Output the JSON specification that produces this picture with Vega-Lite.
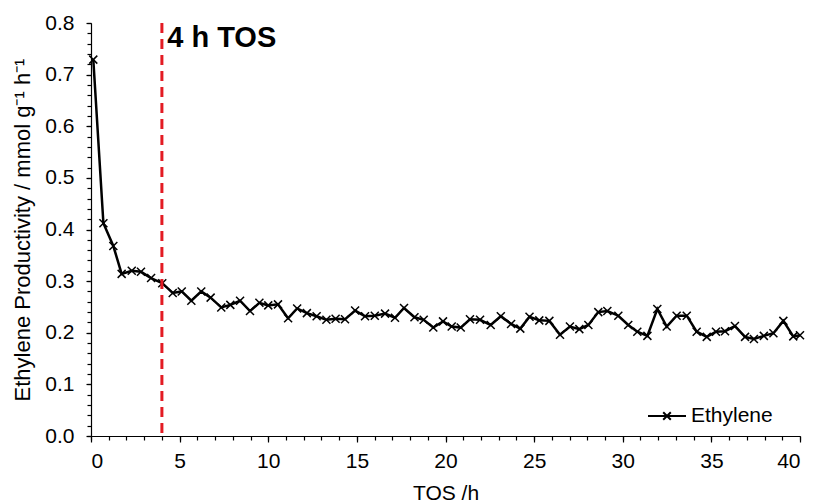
{
  "$schema": "https://vega.github.io/schema/vega-lite/v6.json",
  "width": 709,
  "height": 413,
  "autosize": "none",
  "padding": {"left": 91, "top": 23, "right": 16, "bottom": 68},
  "background": "white",
  "config": {
    "view": {"stroke": null},
    "font": "Liberation Sans",
    "axis": {"grid": false, "domainColor": "black", "tickColor": "black", "labelColor": "black", "titleColor": "black", "labelFont": "Liberation Sans", "titleFont": "Liberation Sans", "labelFontSize": 21, "titleFontSize": 21, "titleFontWeight": "normal", "domainWidth": 1.2, "tickWidth": 1.2}
  },
  "datasets": {
    "eth": [
      {"t": 0.13, "p": 0.729, "series": "Ethylene"},
      {"t": 0.70, "p": 0.412, "series": "Ethylene"},
      {"t": 1.26, "p": 0.368, "series": "Ethylene"},
      {"t": 1.73, "p": 0.314, "series": "Ethylene"},
      {"t": 2.30, "p": 0.320, "series": "Ethylene"},
      {"t": 2.82, "p": 0.318, "series": "Ethylene"},
      {"t": 3.39, "p": 0.306, "series": "Ethylene"},
      {"t": 4.02, "p": 0.296, "series": "Ethylene"},
      {"t": 4.61, "p": 0.277, "series": "Ethylene"},
      {"t": 5.12, "p": 0.280, "series": "Ethylene"},
      {"t": 5.66, "p": 0.262, "series": "Ethylene"},
      {"t": 6.22, "p": 0.280, "series": "Ethylene"},
      {"t": 6.75, "p": 0.268, "series": "Ethylene"},
      {"t": 7.35, "p": 0.249, "series": "Ethylene"},
      {"t": 7.86, "p": 0.254, "series": "Ethylene"},
      {"t": 8.41, "p": 0.262, "series": "Ethylene"},
      {"t": 8.97, "p": 0.242, "series": "Ethylene"},
      {"t": 9.50, "p": 0.258, "series": "Ethylene"},
      {"t": 10.00, "p": 0.253, "series": "Ethylene"},
      {"t": 10.55, "p": 0.255, "series": "Ethylene"},
      {"t": 11.12, "p": 0.228, "series": "Ethylene"},
      {"t": 11.63, "p": 0.247, "series": "Ethylene"},
      {"t": 12.18, "p": 0.238, "series": "Ethylene"},
      {"t": 12.73, "p": 0.232, "series": "Ethylene"},
      {"t": 13.28, "p": 0.225, "series": "Ethylene"},
      {"t": 13.80, "p": 0.227, "series": "Ethylene"},
      {"t": 14.33, "p": 0.226, "series": "Ethylene"},
      {"t": 14.90, "p": 0.243, "series": "Ethylene"},
      {"t": 15.46, "p": 0.232, "series": "Ethylene"},
      {"t": 16.01, "p": 0.233, "series": "Ethylene"},
      {"t": 16.59, "p": 0.237, "series": "Ethylene"},
      {"t": 17.15, "p": 0.229, "series": "Ethylene"},
      {"t": 17.66, "p": 0.248, "series": "Ethylene"},
      {"t": 18.25, "p": 0.230, "series": "Ethylene"},
      {"t": 18.77, "p": 0.225, "series": "Ethylene"},
      {"t": 19.31, "p": 0.210, "series": "Ethylene"},
      {"t": 19.86, "p": 0.222, "series": "Ethylene"},
      {"t": 20.35, "p": 0.212, "series": "Ethylene"},
      {"t": 20.86, "p": 0.210, "series": "Ethylene"},
      {"t": 21.38, "p": 0.226, "series": "Ethylene"},
      {"t": 21.95, "p": 0.225, "series": "Ethylene"},
      {"t": 22.55, "p": 0.215, "series": "Ethylene"},
      {"t": 23.12, "p": 0.232, "series": "Ethylene"},
      {"t": 23.70, "p": 0.217, "series": "Ethylene"},
      {"t": 24.22, "p": 0.208, "series": "Ethylene"},
      {"t": 24.74, "p": 0.231, "series": "Ethylene"},
      {"t": 25.29, "p": 0.224, "series": "Ethylene"},
      {"t": 25.86, "p": 0.223, "series": "Ethylene"},
      {"t": 26.46, "p": 0.196, "series": "Ethylene"},
      {"t": 27.02, "p": 0.212, "series": "Ethylene"},
      {"t": 27.55, "p": 0.207, "series": "Ethylene"},
      {"t": 28.06, "p": 0.215, "series": "Ethylene"},
      {"t": 28.62, "p": 0.240, "series": "Ethylene"},
      {"t": 29.13, "p": 0.242, "series": "Ethylene"},
      {"t": 29.75, "p": 0.233, "series": "Ethylene"},
      {"t": 30.31, "p": 0.215, "series": "Ethylene"},
      {"t": 30.82, "p": 0.202, "series": "Ethylene"},
      {"t": 31.39, "p": 0.194, "series": "Ethylene"},
      {"t": 31.95, "p": 0.246, "series": "Ethylene"},
      {"t": 32.48, "p": 0.212, "series": "Ethylene"},
      {"t": 33.04, "p": 0.233, "series": "Ethylene"},
      {"t": 33.61, "p": 0.233, "series": "Ethylene"},
      {"t": 34.17, "p": 0.202, "series": "Ethylene"},
      {"t": 34.74, "p": 0.192, "series": "Ethylene"},
      {"t": 35.26, "p": 0.202, "series": "Ethylene"},
      {"t": 35.77, "p": 0.203, "series": "Ethylene"},
      {"t": 36.33, "p": 0.213, "series": "Ethylene"},
      {"t": 36.90, "p": 0.192, "series": "Ethylene"},
      {"t": 37.40, "p": 0.188, "series": "Ethylene"},
      {"t": 37.96, "p": 0.194, "series": "Ethylene"},
      {"t": 38.50, "p": 0.199, "series": "Ethylene"},
      {"t": 39.06, "p": 0.223, "series": "Ethylene"},
      {"t": 39.62, "p": 0.193, "series": "Ethylene"},
      {"t": 40.00, "p": 0.195, "series": "Ethylene"}
    ]
  },
  "layer": [
    {
      "data": {"name": "eth"},
      "mark": {"type": "point", "opacity": 0},
      "encoding": {
        "x": {"field": "t", "type": "quantitative", "scale": {"domain": [0, 40], "nice": false, "zero": false},
              "axis": {"orient": "bottom", "values": [0,1,2,3,4,5,6,7,8,9,10,11,12,13,14,15,16,17,18,19,20,21,22,23,24,25,26,27,28,29,30,31,32,33,34,35,36,37,38,39,40], "labels": false, "domain": false, "tickSize": 4, "title": null}},
        "y": {"field": "p", "type": "quantitative", "scale": {"domain": [0, 0.8], "nice": false},
              "axis": {"orient": "left", "values": [0,0.02,0.04,0.06,0.08,0.1,0.12,0.14,0.16,0.18,0.2,0.22,0.24,0.26,0.28,0.3,0.32,0.34,0.36,0.38,0.4,0.42,0.44,0.46,0.48,0.5,0.52,0.54,0.56,0.58,0.6,0.62,0.64,0.66,0.68,0.7,0.72,0.74,0.76,0.78,0.8], "labels": false, "domain": false, "tickSize": 4, "title": null}}
      }
    },
    {
      "data": {"name": "eth"},
      "mark": {"type": "line", "strokeWidth": 2.5},
      "encoding": {
        "x": {"field": "t", "type": "quantitative",
              "axis": {"orient": "bottom", "values": [0,5,10,15,20,25,30,35,40], "tickSize": 6, "labelPadding": 8, "title": "TOS /h", "titlePadding": 11}},
        "y": {"field": "p", "type": "quantitative",
              "axis": {"orient": "left", "values": [0,0.1,0.2,0.3,0.4,0.5,0.6,0.7,0.8], "format": ".1f", "tickSize": 5, "labelPadding": 12, "title": "Ethylene Productivity / mmol g⁻¹ h⁻¹", "titleFontSize": 22, "titlePadding": 10}},
        "color": {"field": "series", "type": "nominal", "scale": {"range": ["black"]},
                  "legend": {"title": null, "orient": "none", "legendX": 556, "legendY": 373, "padding": 0, "symbolType": "M-1,0L1,0M-0.2,-0.2L0.2,0.2M-0.2,0.2L0.2,-0.2", "symbolSize": 1444, "symbolStrokeWidth": 2, "symbolStrokeColor": "black", "symbolFillColor": "transparent", "labelFont": "Liberation Sans", "labelFontSize": 21, "labelColor": "black", "labelOffset": 4}}
      }
    },
    {
      "data": {"name": "eth"},
      "mark": {"type": "point", "shape": "M-1,-1L1,1M-1,1L1,-1", "size": 64, "filled": false, "stroke": "black", "strokeWidth": 1.5, "opacity": 1},
      "encoding": {
        "x": {"field": "t", "type": "quantitative", "axis": null},
        "y": {"field": "p", "type": "quantitative", "axis": null}
      }
    },
    {
      "data": {"values": [{"t": 4}]},
      "mark": {"type": "rule", "color": "#e31b23", "strokeWidth": 3, "strokeDash": [10, 6]},
      "encoding": {"x": {"field": "t", "type": "quantitative", "axis": null}}
    },
    {
      "data": {"values": [{"t": 4.3, "p": 0.77, "label": "4 h TOS"}]},
      "mark": {"type": "text", "align": "left", "baseline": "middle", "font": "Liberation Sans", "fontWeight": "bold", "fontSize": 29, "color": "black"},
      "encoding": {
        "x": {"field": "t", "type": "quantitative", "axis": null},
        "y": {"field": "p", "type": "quantitative", "axis": null},
        "text": {"field": "label"}
      }
    }
  ],
  "resolve": {"axis": {"x": "independent", "y": "independent"}}
}
